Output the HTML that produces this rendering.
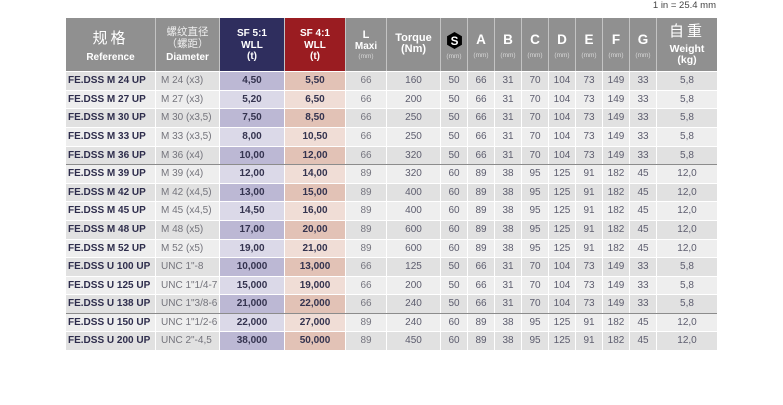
<!DOCTYPE html>
<html><head><meta charset="utf-8">
<style>
html,body{margin:0;padding:0;background:#fff;}
body{width:783px;height:405px;position:relative;overflow:hidden;font-family:"Liberation Sans","Noto Sans CJK SC",sans-serif;}
.note{position:absolute;right:67px;top:0px;font-size:9.5px;color:#444;line-height:12px;}
.row{position:absolute;left:66px;width:651px;display:grid;grid-template-columns:89px 63px 64px 60px 40px 53px 26px 26px 26px 26px 26px 26px 26px 26px 60px;column-gap:1px;background:#fff;}
.row>span{display:block;text-align:center;font-size:10px;color:#5d5d6e;white-space:nowrap;overflow:hidden;}
.row>span:nth-child(1){text-align:left;padding-left:2px;font-weight:bold;color:#2e2d4c;}
.row>span:nth-child(2){text-align:left;padding-left:5px;color:#74747c;}
.row>span:nth-child(3),.row>span:nth-child(4){font-weight:bold;color:#34334f;}
.row>span:nth-child(5){color:#75757f;}
.d>span{background:#e1e1e1;}
.l>span{background:#eeeeee;}
.d>span:nth-child(3){background:#bcb8d4;}
.l>span:nth-child(3){background:#dbd9e8;}
.d>span:nth-child(4){background:#e2c2b6;}
.l>span:nth-child(4){background:#f0ddd6;}
.h18>span{height:18px;line-height:18px;}
.h17>span{height:17px;line-height:17px;}
.hdr{position:absolute;left:66px;top:18px;width:651px;height:53px;display:grid;grid-template-columns:89px 63px 64px 60px 40px 53px 26px 26px 26px 26px 26px 26px 26px 26px 60px;column-gap:1px;background:#c3c3c3;}
.hdr>div{position:relative;background:#909090;color:#fff;}
.hdr>div.sf5{background:#2f2e5e;}
.hdr>div.sf4{background:#9a1c21;}
.t{position:absolute;left:0;right:0;text-align:center;white-space:nowrap;}
.b{font-weight:bold;}
.mm{font-size:6.5px;color:#d8d8d8;line-height:8px;}
.sep{position:absolute;left:66px;width:651px;height:1px;background:#8c8c8c;}
</style></head><body>
<div class="note">1 in = 25.4 mm</div>

<div class="hdr">
  <div>
    <div class="t" style="top:12px;font-size:15px;line-height:18px;letter-spacing:3px;">规格</div>
    <div class="t b" style="top:34px;font-size:10px;line-height:12px;">Reference</div>
  </div>
  <div>
    <div class="t" style="top:8px;font-size:10.5px;line-height:12px;color:#eee;">螺纹直径</div>
    <div class="t" style="top:20px;font-size:10.5px;line-height:12px;color:#eee;">（螺距）</div>
    <div class="t b" style="top:34px;font-size:10px;line-height:12px;">Diameter</div>
  </div>
  <div class="sf5">
    <div class="t b" style="top:10px;font-size:10px;line-height:12px;">SF 5:1</div>
    <div class="t b" style="top:21.5px;font-size:10px;line-height:12px;">WLL</div>
    <div class="t b" style="top:33px;font-size:10px;line-height:12px;">(t)</div>
  </div>
  <div class="sf4">
    <div class="t b" style="top:10px;font-size:10px;line-height:12px;">SF 4:1</div>
    <div class="t b" style="top:21.5px;font-size:10px;line-height:12px;">WLL</div>
    <div class="t b" style="top:33px;font-size:10px;line-height:12px;">(t)</div>
  </div>
  <div>
    <div class="t b" style="top:10.5px;font-size:11px;line-height:13px;">L</div>
    <div class="t b" style="top:23px;font-size:10px;line-height:12px;">Maxi</div>
    <div class="t mm" style="top:35px;">(mm)</div>
  </div>
  <div>
    <div class="t b" style="top:14px;font-size:11px;line-height:12px;">Torque</div>
    <div class="t b" style="top:24.5px;font-size:11px;line-height:12px;">(Nm)</div>
  </div>
  <div>
    <svg style="position:absolute;left:5.5px;top:13.5px;" width="15" height="17" viewBox="0 0 14 16"><polygon points="7,0 14,4 14,12 7,16 0,12 0,4" fill="#000"/><text x="7" y="12" text-anchor="middle" font-family="Liberation Sans, sans-serif" font-weight="bold" font-size="11" fill="#fff">S</text></svg>
    <div class="t mm" style="top:34.5px;">(mm)</div>
  </div>
  <div><div class="t b" style="top:13.5px;font-size:13.5px;line-height:16px;">A</div><div class="t mm" style="top:34px;">(mm)</div></div>
  <div><div class="t b" style="top:13.5px;font-size:13.5px;line-height:16px;">B</div><div class="t mm" style="top:34px;">(mm)</div></div>
  <div><div class="t b" style="top:13.5px;font-size:13.5px;line-height:16px;">C</div><div class="t mm" style="top:34px;">(mm)</div></div>
  <div><div class="t b" style="top:13.5px;font-size:13.5px;line-height:16px;">D</div><div class="t mm" style="top:34px;">(mm)</div></div>
  <div><div class="t b" style="top:13.5px;font-size:13.5px;line-height:16px;">E</div><div class="t mm" style="top:34px;">(mm)</div></div>
  <div><div class="t b" style="top:13.5px;font-size:13.5px;line-height:16px;">F</div><div class="t mm" style="top:34px;">(mm)</div></div>
  <div><div class="t b" style="top:13.5px;font-size:13.5px;line-height:16px;">G</div><div class="t mm" style="top:34px;">(mm)</div></div>
  <div>
    <div class="t" style="top:5px;font-size:15px;line-height:18px;letter-spacing:3px;">自重</div>
    <div class="t b" style="top:24.5px;font-size:10.5px;line-height:12px;">Weight</div>
    <div class="t b" style="top:36px;font-size:10.5px;line-height:12px;">(kg)</div>
  </div>
</div>

<div class="row d h18" style="top:72px"><span>FE.DSS M 24 UP</span><span>M 24 (x3)</span><span>4,50</span><span>5,50</span><span>66</span><span>160</span><span>50</span><span>66</span><span>31</span><span>70</span><span>104</span><span>73</span><span>149</span><span>33</span><span>5,8</span></div>
<div class="row l h17" style="top:91px"><span>FE.DSS M 27 UP</span><span>M 27 (x3)</span><span>5,20</span><span>6,50</span><span>66</span><span>200</span><span>50</span><span>66</span><span>31</span><span>70</span><span>104</span><span>73</span><span>149</span><span>33</span><span>5,8</span></div>
<div class="row d h18" style="top:109px"><span>FE.DSS M 30 UP</span><span>M 30 (x3,5)</span><span>7,50</span><span>8,50</span><span>66</span><span>250</span><span>50</span><span>66</span><span>31</span><span>70</span><span>104</span><span>73</span><span>149</span><span>33</span><span>5,8</span></div>
<div class="row l h18" style="top:128px"><span>FE.DSS M 33 UP</span><span>M 33 (x3,5)</span><span>8,00</span><span>10,50</span><span>66</span><span>250</span><span>50</span><span>66</span><span>31</span><span>70</span><span>104</span><span>73</span><span>149</span><span>33</span><span>5,8</span></div>
<div class="row d h17" style="top:147px"><span>FE.DSS M 36 UP</span><span>M 36 (x4)</span><span>10,00</span><span>12,00</span><span>66</span><span>320</span><span>50</span><span>66</span><span>31</span><span>70</span><span>104</span><span>73</span><span>149</span><span>33</span><span>5,8</span></div>
<div class="sep" style="top:164px"></div>
<div class="row l h18" style="top:165px"><span>FE.DSS M 39 UP</span><span>M 39 (x4)</span><span>12,00</span><span>14,00</span><span>89</span><span>320</span><span>60</span><span>89</span><span>38</span><span>95</span><span>125</span><span>91</span><span>182</span><span>45</span><span>12,0</span></div>
<div class="row d h17" style="top:184px"><span>FE.DSS M 42 UP</span><span>M 42 (x4,5)</span><span>13,00</span><span>15,00</span><span>89</span><span>400</span><span>60</span><span>89</span><span>38</span><span>95</span><span>125</span><span>91</span><span>182</span><span>45</span><span>12,0</span></div>
<div class="row l h18" style="top:202px"><span>FE.DSS M 45 UP</span><span>M 45 (x4,5)</span><span>14,50</span><span>16,00</span><span>89</span><span>400</span><span>60</span><span>89</span><span>38</span><span>95</span><span>125</span><span>91</span><span>182</span><span>45</span><span>12,0</span></div>
<div class="row d h18" style="top:221px"><span>FE.DSS M 48 UP</span><span>M 48 (x5)</span><span>17,00</span><span>20,00</span><span>89</span><span>600</span><span>60</span><span>89</span><span>38</span><span>95</span><span>125</span><span>91</span><span>182</span><span>45</span><span>12,0</span></div>
<div class="row l h17" style="top:240px"><span>FE.DSS M 52 UP</span><span>M 52 (x5)</span><span>19,00</span><span>21,00</span><span>89</span><span>600</span><span>60</span><span>89</span><span>38</span><span>95</span><span>125</span><span>91</span><span>182</span><span>45</span><span>12,0</span></div>
<div class="row d h18" style="top:258px"><span>FE.DSS U 100 UP</span><span>UNC 1"-8</span><span>10,000</span><span>13,000</span><span>66</span><span>125</span><span>50</span><span>66</span><span>31</span><span>70</span><span>104</span><span>73</span><span>149</span><span>33</span><span>5,8</span></div>
<div class="row l h17" style="top:277px"><span>FE.DSS U 125 UP</span><span>UNC 1"1/4-7</span><span>15,000</span><span>19,000</span><span>66</span><span>200</span><span>50</span><span>66</span><span>31</span><span>70</span><span>104</span><span>73</span><span>149</span><span>33</span><span>5,8</span></div>
<div class="row d h18" style="top:295px"><span>FE.DSS U 138 UP</span><span>UNC 1"3/8-6</span><span>21,000</span><span>22,000</span><span>66</span><span>240</span><span>50</span><span>66</span><span>31</span><span>70</span><span>104</span><span>73</span><span>149</span><span>33</span><span>5,8</span></div>
<div class="sep" style="top:313px"></div>
<div class="row l h17" style="top:314px"><span>FE.DSS U 150 UP</span><span>UNC 1"1/2-6</span><span>22,000</span><span>27,000</span><span>89</span><span>240</span><span>60</span><span>89</span><span>38</span><span>95</span><span>125</span><span>91</span><span>182</span><span>45</span><span>12,0</span></div>
<div class="row d h18" style="top:332px"><span>FE.DSS U 200 UP</span><span>UNC 2"-4,5</span><span>38,000</span><span>50,000</span><span>89</span><span>450</span><span>60</span><span>89</span><span>38</span><span>95</span><span>125</span><span>91</span><span>182</span><span>45</span><span>12,0</span></div>
</body></html>
